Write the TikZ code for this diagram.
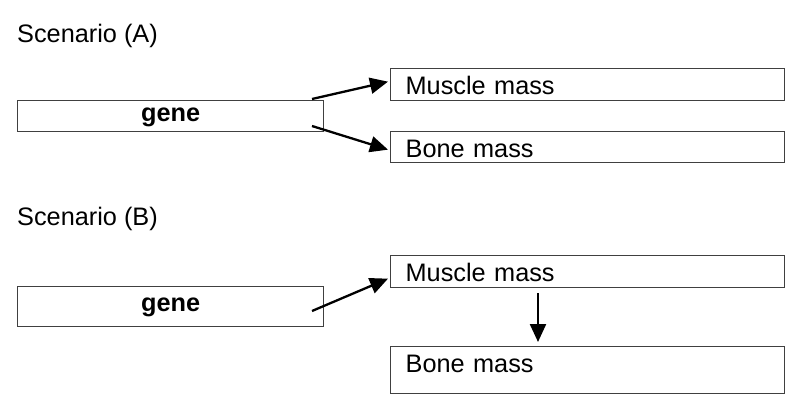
\documentclass[tikz,border=0pt]{standalone}
\usepackage{fontspec}
\setmainfont{Liberation Sans}
\usetikzlibrary{arrows.meta,positioning}

\begin{document}
\begin{tikzpicture}[x=1pt, y=-1pt,
    box/.style = {draw=black!75, line width=1.3pt, inner sep=0pt,
                font=\fontsize{25.3}{30}\selectfont},
    genebox/.style = {box, minimum width=306pt, minimum height=#1,
                text height=14pt, text depth=4pt,
                font=\fontsize{25.3}{30}\selectfont\bfseries},
    massbox/.style = {box, text width=364pt, inner xsep=15pt, align=left,
                text height=25.5pt, text depth=#1},
    massbox/.default = 6.5pt,
    link/.style = {-{Triangle[length=18pt,width=16pt]}, line width=2.3pt}
                    ]
    \useasboundingbox (0,0) rectangle (800,410);
    \def\gx{17}
    \def\mx{390}
    % scenario A
    \node[anchor=base west, inner sep=0pt, font=\fontsize{25.3}{30}\selectfont] at (\gx,42) (scnA) {Scenario (A)};
    \node[genebox=31pt, anchor=north west] at (\gx,100) (geneA) {gene};
    \node[massbox, anchor=north west] at (\mx,68) (musA) {Muscle mass};
    \node[massbox=5.5pt, anchor=north west] at (\mx,131) (bonA) {Bone mass};
    \coordinate (fromA1) at (312,99);
    \coordinate (fromA2) at (312,126);
    \draw[link] (fromA1) -- ([xshift=-2pt,yshift=3pt]musA.west);
    \draw[link] (fromA2) -- ([xshift=-2pt,yshift=-2.5pt]bonA.west);
    % scenario B
    \node[anchor=base west, inner sep=0pt, font=\fontsize{25.3}{30}\selectfont] at (\gx,225) (scnB) {Scenario (B)};
    \node[genebox=40pt, anchor=north west] at (\gx,286) (geneB) {gene};
    \node[massbox, anchor=north west] at (\mx,255) (musB) {Muscle mass};
    \node[massbox=21.5pt, anchor=north west] at (\mx,346) (bonB) {Bone mass};
    \coordinate (fromB1) at (312,311);
    \coordinate (fromB2) at (538,293);
    \draw[link] (fromB1) -- ([xshift=-2pt,yshift=-7pt]musB.west);
    \draw[link, shorten >=4pt] (fromB2) -- (fromB2 |- bonB.north);
\end{tikzpicture}
\end{document}
